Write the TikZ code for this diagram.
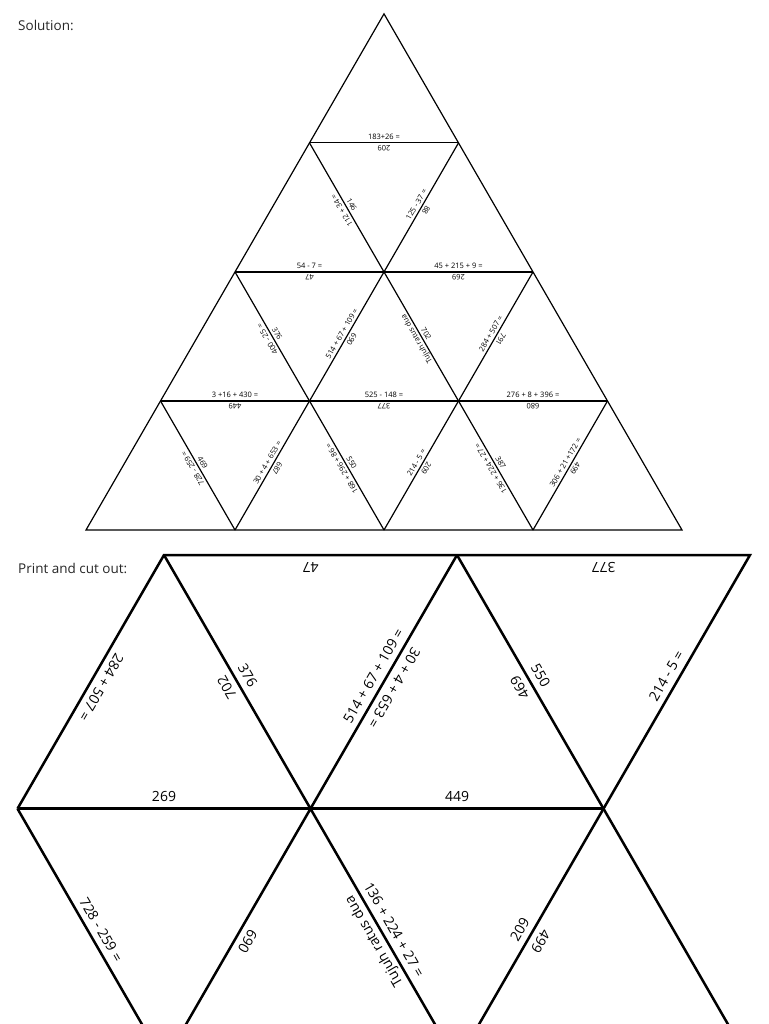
\documentclass[tikz,border=0pt]{standalone}
\usepackage{fontspec}
\setmainfont{Open Sans}
\usetikzlibrary{calc}

\tikzset{
  sol/.style={font=\fontsize{7.5}{9}\selectfont, inner sep=3pt, outer sep=0pt, text depth=0pt, anchor=south},
  cut/.style={font=\fontsize{14}{16}\selectfont, inner sep=7pt, outer sep=0pt, text depth=0pt, anchor=south},
  head/.style={font=\fontsize{13.5}{16}\selectfont, text=black!85, anchor=west, inner sep=0pt}
}

\begin{document}
\begin{tikzpicture}[x=1pt,y=-1pt]
    \useasboundingbox (0,0) rectangle (768,1024);
    \clip (0,0) rectangle (768,1024);

    \node[head] (sollab) at (18,25) {Solution:};
    \node[head] (cutlab) at (18,568) {Print and cut out:};

    \foreach \i in {0,...,4}
        \foreach \j in {0,...,\i}
            \coordinate (s\i\j) at ({384+(\j-\i/2)*149},{13.85+\i*129.04});

    \draw[line width=1.2pt] (s00) -- (s40) -- (s44) -- cycle;
    \draw[line width=1.2pt] (s10) -- (s11) (s20) -- (s22) (s30) -- (s33);
    \draw[line width=1.2pt] (s11) -- (s41) (s22) -- (s42) (s33) -- (s43);
    \draw[line width=1.2pt] (s10) -- (s43) (s20) -- (s42) (s30) -- (s41);

    \node[sol, rotate=0] (q1) at ($(s10)!.5!(s11)$) {183+26 =};
    \node[sol, rotate=180] (a1) at ($(s10)!.5!(s11)$) {209};
    \node[sol, rotate=120] (q2) at ($(s10)!.5!(s21)$) {112 + 34 =};
    \node[sol, rotate=-60] (a2) at ($(s10)!.5!(s21)$) {146};
    \node[sol, rotate=60] (q3) at ($(s11)!.5!(s21)$) {125 - 37 =};
    \node[sol, rotate=-120] (a3) at ($(s11)!.5!(s21)$) {88};

    \node[sol, rotate=0] (q4) at ($(s20)!.5!(s21)$) {54 - 7 =};
    \node[sol, rotate=180] (a4) at ($(s20)!.5!(s21)$) {47};
    \node[sol, rotate=0] (q5) at ($(s21)!.5!(s22)$) {45 + 215 + 9 =};
    \node[sol, rotate=180] (a5) at ($(s21)!.5!(s22)$) {269};
    \node[sol, rotate=120] (q6) at ($(s20)!.5!(s31)$) {400 - 25 =};
    \node[sol, rotate=-60] (a6) at ($(s20)!.5!(s31)$) {376};
    \node[sol, rotate=60] (q7) at ($(s21)!.5!(s31)$) {514 + 67 + 109 =};
    \node[sol, rotate=-120] (a7) at ($(s21)!.5!(s31)$) {690};
    \node[sol, rotate=120] (q8) at ($(s21)!.5!(s32)$) {Tujuh ratus dua};
    \node[sol, rotate=-60] (a8) at ($(s21)!.5!(s32)$) {702};
    \node[sol, rotate=60] (q9) at ($(s22)!.5!(s32)$) {284 + 507 =};
    \node[sol, rotate=-120] (a9) at ($(s22)!.5!(s32)$) {791};

    \node[sol, rotate=0] (q10) at ($(s30)!.5!(s31)$) {3 +16 + 430 =};
    \node[sol, rotate=180] (a10) at ($(s30)!.5!(s31)$) {449};
    \node[sol, rotate=0] (q11) at ($(s31)!.5!(s32)$) {525 - 148 =};
    \node[sol, rotate=180] (a11) at ($(s31)!.5!(s32)$) {377};
    \node[sol, rotate=0] (q12) at ($(s32)!.5!(s33)$) {276 + 8 + 396 =};
    \node[sol, rotate=180] (a12) at ($(s32)!.5!(s33)$) {680};
    \node[sol, rotate=120] (q13) at ($(s30)!.5!(s41)$) {728 - 259 =};
    \node[sol, rotate=-60] (a13) at ($(s30)!.5!(s41)$) {469};
    \node[sol, rotate=60] (q14) at ($(s31)!.5!(s41)$) {30 + 4 + 653 =};
    \node[sol, rotate=-120] (a14) at ($(s31)!.5!(s41)$) {687};
    \node[sol, rotate=120] (q15) at ($(s31)!.5!(s42)$) {168 + 296 + 86 =};
    \node[sol, rotate=-60] (a15) at ($(s31)!.5!(s42)$) {550};
    \node[sol, rotate=60] (q16) at ($(s32)!.5!(s42)$) {214 - 5 =};
    \node[sol, rotate=-120] (a16) at ($(s32)!.5!(s42)$) {209};
    \node[sol, rotate=120] (q17) at ($(s32)!.5!(s43)$) {136 + 224 + 27 =};
    \node[sol, rotate=-60] (a17) at ($(s32)!.5!(s43)$) {387};
    \node[sol, rotate=60] (q18) at ($(s33)!.5!(s43)$) {306 + 21 +172 =};
    \node[sol, rotate=-120] (a18) at ($(s33)!.5!(s43)$) {499};

    \foreach \k in {0,1,2} {
        \coordinate (c0\k) at ({164+293*\k},555);
        \coordinate (c1\k) at ({17.5+293*\k},808.7);
        \coordinate (c2\k) at ({164+293*\k},1062.4);
    }

    \draw[line width=2.5pt] (c10) -- (c00) -- (c02) -- (c21);
    \draw[line width=2.5pt] (c10) -- (c12);
    \draw[line width=2.5pt] (c00) -- (c21) (c01) -- (c20) (c01) -- (c22) (c10) -- (c20);

    \node[cut, rotate=-120] (p1) at ($(c10)!.5!(c00)$) {284 + 507 =};
    \node[cut, rotate=120] (p2) at ($(c00)!.5!(c11)$) {702};
    \node[cut, rotate=0] (p3) at ($(c10)!.5!(c11)$) {269};
    \node[cut, rotate=-60] (p4) at ($(c00)!.5!(c11)$) {376};
    \node[cut, rotate=180] (p5) at ($(c00)!.5!(c01)$) {47};
    \node[cut, rotate=60] (p6) at ($(c01)!.5!(c11)$) {514 + 67 + 109 =};
    \node[cut, rotate=-120] (p7) at ($(c01)!.5!(c11)$) {30 + 4 + 653 =};
    \node[cut, rotate=0] (p8) at ($(c11)!.5!(c12)$) {449};
    \node[cut, rotate=120] (p9) at ($(c01)!.5!(c12)$) {469};
    \node[cut, rotate=-60] (p10) at ($(c01)!.5!(c12)$) {550};
    \node[cut, rotate=180] (p11) at ($(c01)!.5!(c02)$) {377};
    \node[cut, rotate=60] (p12) at ($(c02)!.5!(c12)$) {214 - 5 =};
    \node[cut, rotate=-60] (p13) at ($(c10)!.5!(c20)$) {728 - 259 =};
    \node[cut, rotate=-120] (p14) at ($(c11)!.5!(c20)$) {690};
    \node[cut, rotate=120] (p15) at ($(c11)!.5!(c21)$) {Tujuh ratus dua};
    \node[cut, rotate=-60] (p16) at ($(c11)!.5!(c21)$) {136 + 224 + 27 =};
    \node[cut, rotate=60] (p17) at ($(c12)!.5!(c21)$) {209};
    \node[cut, rotate=-120] (p18) at ($(c12)!.5!(c21)$) {499};
\end{tikzpicture}
\end{document}
